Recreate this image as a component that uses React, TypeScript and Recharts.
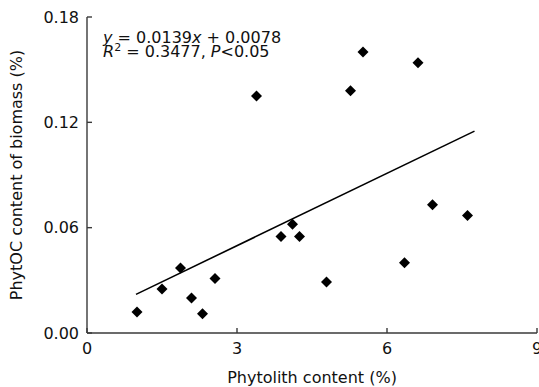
import { ScatterChart, Scatter, XAxis, YAxis, ReferenceLine } from "recharts"

const phytolith = [1.0, 1.5, 1.87, 2.09, 2.31, 2.56, 3.39, 3.88, 4.11, 4.25, 4.79, 5.27, 5.52, 6.35, 6.62, 6.91, 7.61]
const phytoc = [0.012, 0.025, 0.037, 0.02, 0.011, 0.031, 0.135, 0.055, 0.062, 0.055, 0.029, 0.138, 0.16, 0.04, 0.154, 0.073, 0.067]
const fitX = [0.98, 7.75]
const fitY = [0.022, 0.115]
const xTicks = [0, 3, 6, 9]
const yTicks = [0, 0.06, 0.12, 0.18]

const points = phytolith.map((x, i) => ({ x, y: phytoc[i] }))
const fitSegment = fitX.map((x, i) => ({ x, y: fitY[i] }))

const font = "'DejaVu Sans', sans-serif"
const axisColor = "#3a3a3a"

const Diamond = (props: any) => {
  const { cx, cy } = props
  const r = 5.5
  return <polygon points={`${cx},${cy - r} ${cx + r},${cy} ${cx},${cy + r} ${cx - r},${cy}`} fill="#000" />
}

export default function App() {
  const tickStyle = { fontSize: 16, fill: "#111", fontFamily: font }
  const noteLine = {
    position: "absolute" as const,
    left: 103,
    height: 14,
    fontFamily: font,
    fontSize: 16,
    lineHeight: "14px",
    color: "#111",
    whiteSpace: "nowrap" as const,
  }
  return (
    <div style={{ position: "absolute", left: 0, top: 0, width: 539, height: 387, background: "#fff" }}>
      <ScatterChart width={539} height={387} margin={{ top: 17, right: 2, bottom: 0, left: 0 }}>
        <XAxis
          xAxisId="top"
          orientation="top"
          type="number"
          dataKey="x"
          domain={[0, 9]}
          ticks={xTicks}
          tick={false}
          tickLine={false}
          height={0}
          stroke={axisColor}
          strokeWidth={1.4}
        />
        <YAxis
          yAxisId="right"
          orientation="right"
          type="number"
          dataKey="y"
          domain={[0, 0.18]}
          tick={false}
          tickLine={false}
          width={0}
          stroke={axisColor}
          strokeWidth={1.4}
        />
        <XAxis
          type="number"
          dataKey="x"
          domain={[0, 9]}
          ticks={xTicks}
          interval={0}
          height={54}
          tickSize={-5}
          tickMargin={15}
          tick={tickStyle}
          stroke={axisColor}
          strokeWidth={1.4}
          label={{
            value: "Phytolith content (%)",
            position: "insideBottom",
            offset: 4,
            style: { fontSize: 16, fill: "#111", fontFamily: font },
          }}
        />
        <YAxis
          type="number"
          dataKey="y"
          domain={[0, 0.18]}
          ticks={yTicks}
          interval={0}
          width={87}
          tickSize={-5}
          tickMargin={13}
          tickFormatter={(v: number) => v.toFixed(2)}
          tick={tickStyle}
          stroke={axisColor}
          strokeWidth={1.4}
          label={{
            content: (p: any) => {
              const vb = p.viewBox
              const cx = vb.x + 16
              const cy = vb.y + vb.height / 2
              return (
                <text
                  x={cx}
                  y={cy}
                  transform={`rotate(-90 ${cx} ${cy})`}
                  textAnchor="middle"
                  dominantBaseline="central"
                  style={{ fontSize: 16, fill: "#111", fontFamily: font }}
                >
                  PhytOC content of biomass (%)
                </text>
              )
            },
          }}
        />
        <ReferenceLine segment={fitSegment} stroke="#000" strokeWidth={1.6} ifOverflow="visible" />
        <Scatter data={points} shape={Diamond} isAnimationActive={false} />
      </ScatterChart>
      <div style={{ ...noteLine, top: 31 }}>
        <i>y</i> = 0.0139<i>x</i> + 0.0078
      </div>
      <div style={{ ...noteLine, top: 45 }}>
        <i>R</i>
        <span style={{ fontSize: 11, lineHeight: 0, position: "relative", top: -6 }}>2</span> = 0.3477, <i>P</i>&lt;0.05
      </div>
    </div>
  )
}
